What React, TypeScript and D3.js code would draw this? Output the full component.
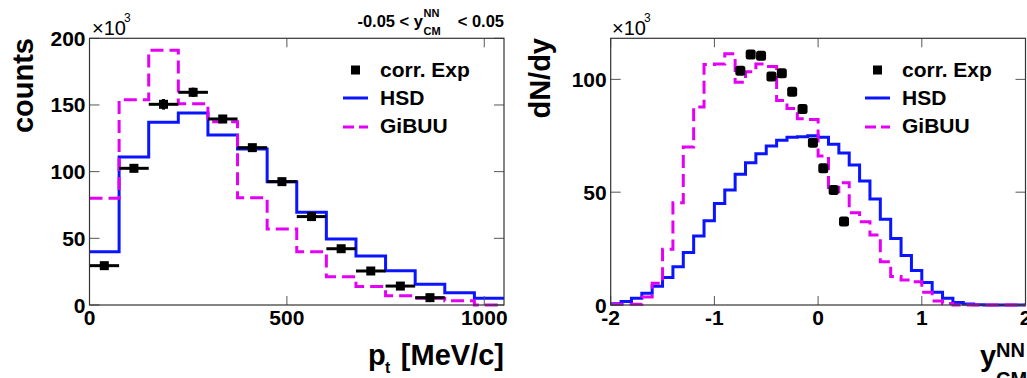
import * as d3 from "d3";

// left panel: pt spectrum, bins of 75 MeV/c
const ptEdges = [0, 75, 150, 225, 300, 375, 450, 525, 600, 675, 750, 825, 900, 975, 1050];
const ptHSD = [40, 111, 137, 144, 127.5, 117, 92.5, 69.5, 49.5, 36.8, 25.7, 15.5, 9.2, 5];
const ptGiBUU = [80, 154, 191, 151, 137.5, 80.5, 57, 40, 21.2, 13.8, 7, 5, 3.2, 0];
const ptExp = [29.5, 102.5, 150.5, 159.5, 139.5, 118, 92.5, 66.3, 42.2, 25.5, 14.2, 5.5];
const ptExpErr = [1.5, 3, 4, 3.5, 2.5, 2, 1.5, 1.5, 1, 1, 1, 1];
const ptTicks = [0, 500, 1000];
const countTicks = [0, 50, 100, 150, 200];

// right panel: rapidity, bins of 0.1 from -2 to 2
const yEdges = d3.range(41).map((i) => +(-2 + i * 0.1).toFixed(1));
const yHSD = [
  0.6, 1.5, 3, 5.2, 8.3, 12.2, 17, 23.3, 30.6, 37.3, 45, 51, 58, 63, 67, 70.5, 73, 74.3, 74.6, 75,
  74.4, 71.2, 67.4, 62, 55, 47, 38, 29.5, 21.9, 15.3, 10, 5.6, 3, 1.1, 0.4, 0.15, 0, 0, 0, 0,
];
const yGiBUU = [
  0.3, 0.3, 0.3, 3.6, 9.6, 24.7, 45.3, 70, 87.8, 106.6, 106.8, 111.3, 98.7, 103.4, 106.8, 105.7, 90.6, 87.1, 82.5, 82.2,
  66, 50.2, 54.2, 40.9, 36.9, 31, 19.2, 12.6, 11.1, 10.3, 5.6, 1.8, 0.7, 0, 0, 0, 0, 0, 0, 0,
];
const yExpX = [-0.75, -0.65, -0.55, -0.45, -0.35, -0.25, -0.15, -0.05, 0.05, 0.15, 0.25];
const yExp = [103.8, 111, 110.5, 101.3, 102.7, 94.5, 86.9, 71.9, 60.6, 51, 37];
const rapTicks = [-2, -1, 0, 1, 2];
const dndyTicks = [0, 50, 100];

const FONT = "'Liberation Sans', Arial, Helvetica, sans-serif";
const BLUE = "#0a14ff";
const MAGENTA = "#e400f4";
const DASH = "13 6";

function stepPath(edges: number[], vals: number[], x: any, y: any) {
  const pts: [number, number][] = vals.map((v, i) => [edges[i], v]);
  pts.push([edges[vals.length], vals[vals.length - 1]]);
  return (
    d3
      .line<[number, number]>()
      .x((d) => x(d[0]))
      .y((d) => y(d[1]))
      .curve(d3.curveStepAfter)(pts) ?? ""
  );
}

function Frame({ x, y, xt, yt }: { x: any; y: any; xt: number[]; yt: number[] }) {
  const [x0, x1] = x.range();
  const [y0, y1] = y.range();
  return (
    <g>
      {yt.map((t) => (
        <g key={"y" + t}>
          <line x1={x0} x2={x0 + 10} y1={y(t)} y2={y(t)} stroke="#555" strokeWidth={1} />
          <line x1={x1 - 10} x2={x1} y1={y(t)} y2={y(t)} stroke="#555" strokeWidth={1} />
          <text x={x0 - 4} y={y(t) + 7.5} textAnchor="end" fontSize={21} fontWeight="bold">
            {t}
          </text>
        </g>
      ))}
      {xt.map((t) => (
        <g key={"x" + t}>
          <line x1={x(t)} x2={x(t)} y1={y0} y2={y0 - 9} stroke="#555" strokeWidth={1} />
          <line x1={x(t)} x2={x(t)} y1={y1} y2={y1 + 9} stroke="#555" strokeWidth={1} />
          <text x={x(t)} y={325} textAnchor="middle" fontSize={21} fontWeight="bold">
            {t}
          </text>
        </g>
      ))}
      <rect x={x0} y={y1} width={x1 - x0} height={y0 - y1} fill="none" stroke="#333" strokeWidth={1.2} />
    </g>
  );
}

function Legend({ x, y }: { x: number; y: number }) {
  return (
    <g fontSize={21} fontWeight="bold">
      <rect x={x + 8} y={y - 4.5} width={9} height={9} fill="#000" />
      <text x={x + 37} y={y + 7}>corr. Exp</text>
      <line x1={x} x2={x + 25} y1={y + 28} y2={y + 28} stroke={BLUE} strokeWidth={3} />
      <text x={x + 37} y={y + 35}>HSD</text>
      <line x1={x} x2={x + 25} y1={y + 57} y2={y + 57} stroke={MAGENTA} strokeWidth={3} strokeDasharray="11 5" />
      <text x={x + 37} y={y + 63}>GiBUU</text>
    </g>
  );
}

export default function App() {
  const xL = d3.scaleLinear().domain([0, 1050]).range([89.5, 504]);
  const yL = d3.scaleLinear().domain([0, 200]).range([305, 38.3]);
  const xR = d3.scaleLinear().domain([-2, 2]).range([610.7, 1025.5]);
  const yR = d3.scaleLinear().domain([0, 118.2]).range([305, 38.3]);

  return (
    <svg
      width={1027}
      height={378}
      style={{ position: "absolute", left: 0, top: 0, background: "#fff" }}
      fontFamily={FONT}
      fill="#000"
    >
      <rect width={1027} height={378} fill="#fff" />

      {/* left panel */}
      <path d={stepPath(ptEdges, ptHSD, xL, yL)} fill="none" stroke={BLUE} strokeWidth={3} />
      <path d={stepPath(ptEdges, ptGiBUU, xL, yL)} fill="none" stroke={MAGENTA} strokeWidth={3} strokeDasharray={DASH} />
      {ptExp.map((v, i) => (
        <g key={i}>
          <line x1={xL(ptEdges[i])} x2={xL(ptEdges[i + 1])} y1={yL(v)} y2={yL(v)} stroke="#000" strokeWidth={3} />
          <line
            x1={xL((ptEdges[i] + ptEdges[i + 1]) / 2)}
            x2={xL((ptEdges[i] + ptEdges[i + 1]) / 2)}
            y1={yL(v - ptExpErr[i])}
            y2={yL(v + ptExpErr[i])}
            stroke="#000"
            strokeWidth={3}
          />
          <rect x={xL((ptEdges[i] + ptEdges[i + 1]) / 2) - 4.5} y={yL(v) - 4.5} width={9} height={9} fill="#000" />
        </g>
      ))}
      <Frame x={xL} y={yL} xt={ptTicks} yt={countTicks} />
      <Legend x={343} y={70} />
      <text x={92} y={35} fontSize={20}>
        ×10
      </text>
      <text x={124} y={22} fontSize={12}>
        3
      </text>
      <text transform="translate(33,38) rotate(-90)" textAnchor="end" fontSize={29} fontWeight="bold">
        counts
      </text>
      <g fontWeight="bold">
        <text x={368} y={365} fontSize={29}>
          p
        </text>
        <text x={385} y={373} fontSize={16}>
          t
        </text>
        <text x={504} y={365} textAnchor="end" fontSize={29}>
          [MeV/c]
        </text>
        <text x={423} y={27} textAnchor="end" fontSize={16.5}>
          -0.05 &lt; y
        </text>
        <text x={423.5} y={17} fontSize={11}>
          NN
        </text>
        <text x={423.5} y={35} fontSize={11}>
          CM
        </text>
        <text x={504} y={27} textAnchor="end" fontSize={16.5}>
          &lt; 0.05
        </text>
      </g>

      {/* right panel */}
      <path d={stepPath(yEdges, yHSD, xR, yR)} fill="none" stroke={BLUE} strokeWidth={3} />
      <path d={stepPath(yEdges, yGiBUU, xR, yR)} fill="none" stroke={MAGENTA} strokeWidth={3} strokeDasharray={DASH} />
      {yExp.map((v, i) => (
        <rect key={i} x={xR(yExpX[i]) - 5} y={yR(v) - 5} width={10} height={10} rx={2.5} fill="#000" />
      ))}
      <Frame x={xR} y={yR} xt={rapTicks} yt={dndyTicks} />
      <Legend x={865} y={70} />
      <text x={612} y={35} fontSize={20}>
        ×10
      </text>
      <text x={644} y={22} fontSize={12}>
        3
      </text>
      <text transform="translate(550,38) rotate(-90)" textAnchor="end" fontSize={29} fontWeight="bold">
        dN/dy
      </text>
      <g fontWeight="bold">
        <text x={980} y={366} fontSize={29}>
          y
        </text>
        <text x={996} y={357} fontSize={20}>
          NN
        </text>
        <text x={996} y={386} fontSize={20}>
          CM
        </text>
      </g>
    </svg>
  );
}
